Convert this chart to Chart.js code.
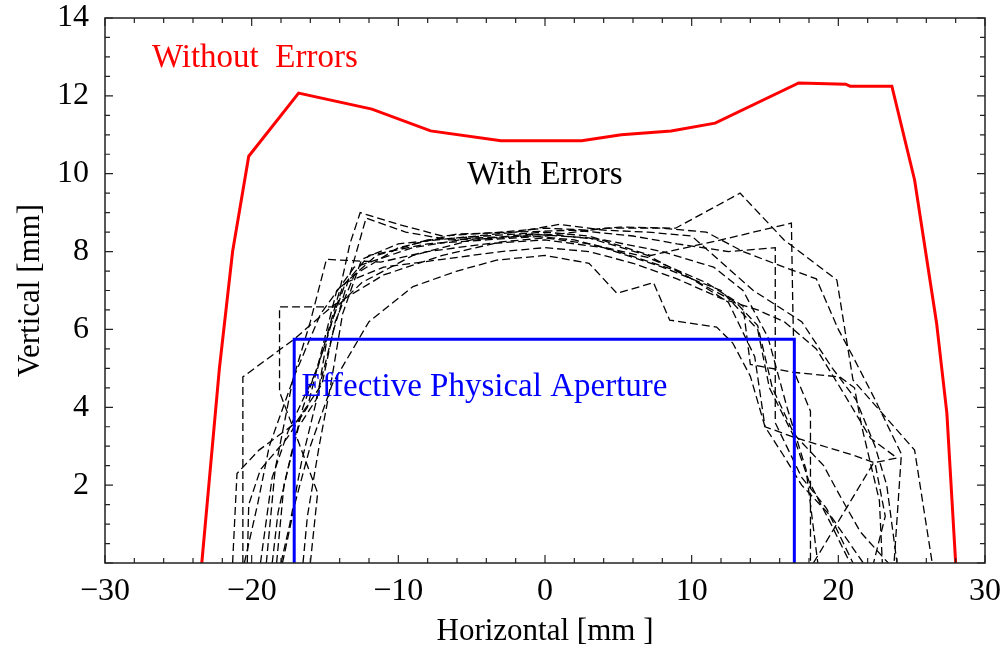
<!DOCTYPE html>
<html>
<head>
<meta charset="utf-8">
<script src="https://cdn.jsdelivr.net/npm/chart.js@4.4.1/dist/chart.umd.min.js"></script>
<style>
    html, body { margin: 0; padding: 0; background: #fff; }
</style>
</head>
<body>
<canvas id="canvas" width="1005" height="654"></canvas>
<script>
    'use strict';

    // Dynamic aperture without errors (red)
    var noErrX = [-23.4, -22.8, -22.2, -21.3, -20.2, -16.8, -11.8, -7.8, -3.0, 2.5, 5.2, 8.6, 11.6, 17.3, 20.5, 20.8, 23.65, 25.2, 26.7, 27.4, 28.0];
    var noErrY = [0, 2.5, 5.0, 8.0, 10.45, 12.07, 11.66, 11.1, 10.85, 10.85, 11.0, 11.1, 11.3, 12.33, 12.3, 12.25, 12.25, 9.84, 6.16, 3.85, 0];

    // Effective physical aperture (blue)
    var apertureX = [-17.1, -17.1, 17.0, 17.0];
    var apertureY = [0, 5.75, 5.75, 0];

    // Dynamic aperture with errors, one list per seed (black dashed)
    var seed01 = [[-20.6, 0], [-20.6, 4.78], [-17.1, 5.75], [-14.5, 6.6], [-11, 7.4], [-7, 7.9], [-3, 8.25], [0, 8.35], [3, 8.2], [7, 7.85], [11, 7.2], [13.5, 6.6], [14.0, 5.1], [16.9, 4.9], [20.1, 4.78], [21.1, 4.5], [21.6, 3.5], [22.8, 1.6], [23.0, 0]];
    var seed02 = [[-16.0, 0], [-15.5, 1.8], [-18.1, 4.4], [-18.1, 6.58], [-14.2, 6.58], [-12.5, 7.2], [-9, 7.9], [-5, 8.3], [-1, 8.45], [3, 8.35], [7, 7.9], [10, 7.3], [12.5, 6.7], [14.3, 5.3], [15.0, 3.5], [16.9, 3.24], [21.0, 2.77], [22.5, 2.57], [23.2, 1.2], [22.4, 0]];
    var seed03 = [[-19.4, 0], [-18.6, 2.2], [-17.5, 3.4], [-15.5, 5.0], [-14, 7.0], [-13.3, 8.2], [-12.6, 9.0], [-10, 8.7], [-7, 8.4], [-3, 8.5], [0, 8.6], [3, 8.55], [5.1, 8.63], [8.9, 8.6], [13.3, 9.5], [16.3, 8.3], [19.9, 7.27], [21.0, 4.7], [25.2, 2.9], [26.4, 0]];
    var seed04 = [[-18.3, 0], [-17.8, 2.0], [-16.8, 3.5], [-15.6, 4.2], [-14.4, 6.0], [-13.0, 7.8], [-12.2, 8.86], [-9.5, 8.5], [-6.5, 8.3], [-3, 8.35], [0, 8.45], [4, 8.3], [8, 8.0], [11.5, 7.6], [13.5, 7.0], [15.2, 5.8], [16.5, 4.0], [17.8, 2.4], [18.6, 0]];
    var seed05 = [[-19.0, 0], [-18.4, 2.4], [-17.2, 4.7], [-16.0, 6.2], [-14.9, 7.8], [-11.2, 7.73], [-8, 8.0], [-4, 8.2], [0, 8.3], [4, 8.1], [8, 7.6], [12, 7.0], [14.5, 6.0], [15.3, 4.5], [16.9, 3.3], [18.0, 2.1], [19.5, 1.0], [20.8, 0]];
    var seed06 = [[-17.9, 0], [-17.0, 1.6], [-16.0, 3.0], [-14.5, 4.6], [-12, 6.2], [-9, 7.1], [-6, 7.5], [-3.3, 7.78], [0, 7.9], [3, 7.7], [4.9, 6.93], [7.4, 7.2], [8.5, 6.24], [11.7, 6.06], [12.8, 5.65], [14.0, 4.8], [15.0, 3.5], [16.2, 2.8], [17.5, 2.0], [19.5, 1.2], [21.7, 0]];
    var seed07 = [[-21.3, 0], [-21.0, 2.3], [-19.5, 2.9], [-17.0, 3.6], [-15.2, 4.6], [-14.3, 6.2], [-13, 7.4], [-10, 8.1], [-6, 8.45], [-2, 8.5], [2, 8.55], [6, 8.4], [9, 8.2], [12.5, 8.0], [15.7, 8.1], [15.7, 5.5], [15.7, 3.6], [17.5, 2.2], [19.2, 1.4], [21.0, 0]];
    var seed08 = [[-20.3, 0], [-20.2, 1.5], [-19.4, 2.4], [-17.6, 3.2], [-16.2, 4.0], [-15.2, 5.5], [-14.2, 7.0], [-11.5, 7.9], [-8, 8.3], [-4, 8.4], [0, 8.5], [3, 8.4], [7.2, 7.9], [12, 8.3], [16.8, 8.73], [16.9, 6.5], [17.0, 4.9], [18.1, 3.9], [18.1, 0]];
    var seed09 = [[-20.5, 0], [-19.6, 1.5], [-18.8, 3.0], [-17.1, 4.8], [-15.3, 6.4], [-13, 7.6], [-9, 8.1], [-5, 8.35], [-1, 8.4], [2, 8.3], [5, 8.0], [9, 7.5], [13, 6.7], [14.5, 6.1], [15.5, 4.5], [17.0, 3.3], [19.0, 2.5], [20.0, 1.8], [21.5, 0.8], [23.4, 0]];
    var seed10 = [[-16.5, 0], [-16.2, 1.2], [-15.4, 3.0], [-14.6, 4.6], [-13.8, 6.4], [-12.5, 7.8], [-10, 8.2], [-6, 8.35], [-2, 8.5], [1, 8.7], [4, 8.55], [7, 8.5], [10, 8.4], [13, 7.4], [14.2, 7.0], [17.5, 6.2], [19.6, 5.0], [21.2, 4.2], [22.5, 3.0], [23.3, 2.0], [24.0, 0]];
    var seed11 = [[-18.0, 0], [-17.4, 1.0], [-16.6, 2.6], [-15.5, 4.3], [-14.8, 5.9], [-13.6, 7.2], [-11, 7.6], [-7, 7.8], [-3, 8.0], [0, 8.1], [3, 8.0], [6, 7.7], [9, 7.3], [12, 6.8], [14.5, 6.5], [16.3, 6.2], [18.5, 5.5], [20.3, 4.4], [22.2, 3.2], [24.0, 2.7], [22.4, 2.57], [18.3, 0]];
    var seed12 = [[-18.6, 0], [-18.2, 1.3], [-17.3, 2.8], [-16.5, 4.0], [-15.0, 5.6], [-13.8, 7.1], [-12, 7.9], [-8, 8.2], [-4, 8.3], [0, 8.4], [4, 8.6], [8, 8.6], [11, 8.5], [13.5, 8.0], [16.3, 7.6], [18.5, 7.3], [20.0, 6.0], [21.0, 5.3], [22.5, 4.2], [24.3, 2.8], [23.8, 0]];
    var seeds = [seed01, seed02, seed03, seed04, seed05, seed06, seed07, seed08, seed09, seed10, seed11, seed12];

    // Axis ticks
    var xTickValues = [-30, -20, -10, 0, 10, 20, 30];
    var yTickValues = [2, 4, 6, 8, 10, 12, 14];

    // Text placed in data coordinates (left edge, vertical middle)
    var notes = [
        { text: 'Without  Errors', x: -26.8, y: 12.97, color: '#ff0000' },
        { text: 'With Errors', x: -5.3, y: 9.97, color: '#000000' },
        { text: 'Effective Physical Aperture', x: -16.6, y: 4.52, color: '#0000ff' }
    ];

    var SERIF = '"Liberation Serif", "Times New Roman", serif';

    function zip(xs, ys) {
        return xs.map(function (x, i) { return { x: x, y: ys[i] }; });
    }

    var datasets = [];
    datasets.push({
        data: zip(noErrX, noErrY),
        borderColor: '#ff0000',
        borderWidth: 3,
        order: 0
    });
    datasets.push({
        data: zip(apertureX, apertureY),
        borderColor: '#0000ff',
        borderWidth: 3,
        order: 1
    });
    seeds.forEach(function (s) {
        datasets.push({
            data: s.map(function (p) { return { x: p[0], y: p[1] }; }),
            borderColor: '#000000',
            borderWidth: 1.3,
            borderDash: [8, 4],
            order: 2
        });
    });
    datasets.forEach(function (d) {
        d.showLine = true;
        d.pointRadius = 0;
        d.fill = false;
        d.tension = 0;
    });

    // frame, inward tick marks and text notes
    var framePlugin = {
        id: 'frame',
        afterDatasetsDraw: function (chart) {
            var ctx = chart.ctx;
            var a = chart.chartArea;
            var xs = chart.scales.x;
            var ys = chart.scales.y;
            ctx.save();
            ctx.strokeStyle = '#222';
            ctx.lineWidth = 1.5;
            ctx.strokeRect(a.left, a.top, a.right - a.left, a.bottom - a.top);

            ctx.lineWidth = 1.2;
            ctx.beginPath();
            for (var v = -30; v <= 30; v += 2) {
                var px = xs.getPixelForValue(v);
                var len = (v % 10 === 0) ? 8 : 5;
                ctx.moveTo(px, a.bottom);
                ctx.lineTo(px, a.bottom - len);
                ctx.moveTo(px, a.top);
                ctx.lineTo(px, a.top + len);
            }
            for (var w = 0; w <= 14; w += 0.5) {
                var py = ys.getPixelForValue(w);
                var l2 = (w % 2 === 0) ? 8 : 5;
                ctx.moveTo(a.left, py);
                ctx.lineTo(a.left + l2, py);
                ctx.moveTo(a.right, py);
                ctx.lineTo(a.right - l2, py);
            }
            ctx.stroke();

            ctx.font = '33px ' + SERIF;
            ctx.textAlign = 'left';
            ctx.textBaseline = 'middle';
            notes.forEach(function (n) {
                ctx.fillStyle = n.color;
                ctx.fillText(n.text, xs.getPixelForValue(n.x), ys.getPixelForValue(n.y));
            });
            ctx.restore();
        }
    };

    var ctx = document.getElementById('canvas').getContext('2d');
    window.apertureChart = new Chart(ctx, {
        type: 'scatter',
        data: { datasets: datasets },
        options: {
            responsive: false,
            animation: false,
            layout: { padding: { left: 0, right: 20, top: 18, bottom: 0 } },
            plugins: {
                legend: { display: false },
                tooltip: { enabled: false }
            },
            scales: {
                x: {
                    type: 'linear',
                    min: -30,
                    max: 30,
                    afterBuildTicks: function (scale) {
                        scale.ticks = xTickValues.map(function (v) { return { value: v }; });
                    },
                    afterFit: function (scale) {
                        scale.height = 91;
                        scale.paddingLeft = 0;
                        scale.paddingRight = 0;
                    },
                    grid: { display: false, drawTicks: false },
                    border: { display: false },
                    ticks: {
                        color: '#000',
                        padding: 9,
                        maxRotation: 0,
                        autoSkip: false,
                        font: { family: SERIF, size: 32 },
                        callback: function (v) { return v < 0 ? '\u2212' + Math.abs(v) : String(v); }
                    },
                    title: {
                        display: true,
                        text: 'Horizontal [mm ]',
                        color: '#000',
                        font: { family: SERIF, size: 31 },
                        padding: { top: 0, bottom: 4 }
                    }
                },
                y: {
                    type: 'linear',
                    min: 0,
                    max: 14,
                    afterBuildTicks: function (scale) {
                        scale.ticks = yTickValues.map(function (v) { return { value: v }; });
                    },
                    afterFit: function (scale) {
                        scale.width = 105;
                        scale.paddingTop = 0;
                        scale.paddingBottom = 0;
                    },
                    grid: { display: false, drawTicks: false },
                    border: { display: false },
                    ticks: {
                        color: '#000',
                        padding: 16,
                        font: { family: SERIF, size: 32 }
                    },
                    title: {
                        display: true,
                        text: 'Vertical [mm]',
                        color: '#000',
                        font: { family: SERIF, size: 31 },
                        padding: { top: 12, bottom: 0 }
                    }
                }
            }
        },
        plugins: [framePlugin]
    });
</script>
</body>
</html>
